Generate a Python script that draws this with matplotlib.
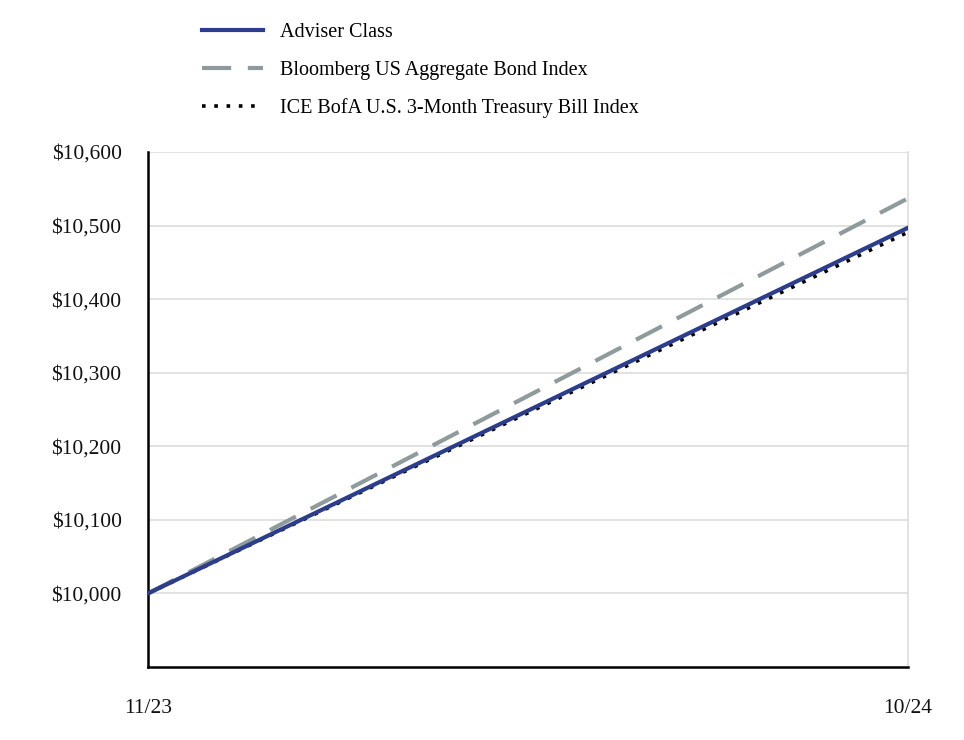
import matplotlib.pyplot as plt

# growth of $10,000, start and end of period
dates = ['11/23', '10/24']
adviser = [10000, 10497]
bloomberg = [10000, 10537]
ice_bofa = [10000, 10491]
y_ticks = [10000, 10100, 10200, 10300, 10400, 10500, 10600]

plt.rcParams['font.family'] = ['Liberation Serif', 'DejaVu Serif']

fig = plt.figure(figsize=(9.64, 7.4), dpi=100)
ax = fig.add_axes([148 / 964, 73 / 740, 760 / 964, 515 / 740])

x = list(range(len(dates)))
ax.plot(x, bloomberg, color='#8E9A9B', lw=3, dashes=(7, 4), label='Bloomberg US Aggregate Bond Index')
ax.plot(x, adviser, color='#2B3D8C', lw=3, label='Adviser Class', zorder=3)
ax.plot(x, ice_bofa, color='black', lw=2.6, dashes=(1, 2.4), label='ICE BofA U.S. 3-Month Treasury Bill Index', zorder=2)

ax.set_xlim(0, 1)
ax.set_ylim(9900, 10600)
ax.set_yticks(y_ticks)
ax.set_yticklabels([f'${v:,}' for v in y_ticks])
ax.set_xticks(x)
ax.set_xticklabels(dates)
ax.tick_params(axis='both', length=0, labelsize=15.5, colors='#111111')
ax.tick_params(axis='y', pad=19)
ax.tick_params(axis='x', pad=23)

ax.grid(axis='y', color='#DDDDDD', lw=1.2)
ax.set_axisbelow(True)
for s in ['left', 'bottom']:
    ax.spines[s].set_color('black')
    ax.spines[s].set_linewidth(1.8)
ax.spines['top'].set_visible(False)
ax.spines['right'].set_color('#DDDDDD')
ax.spines['right'].set_linewidth(1.2)

handles, labels = ax.get_legend_handles_labels()
order = [1, 0, 2]
fig.legend([handles[i] for i in order], [labels[i] for i in order],
           loc='upper left', bbox_to_anchor=(184 / 964, 1 - 5 / 740),
           frameon=False, fontsize=14.5, handlelength=3.0, handletextpad=0.85,
           labelspacing=0.92)

fig.savefig('out.png', dpi=100)
